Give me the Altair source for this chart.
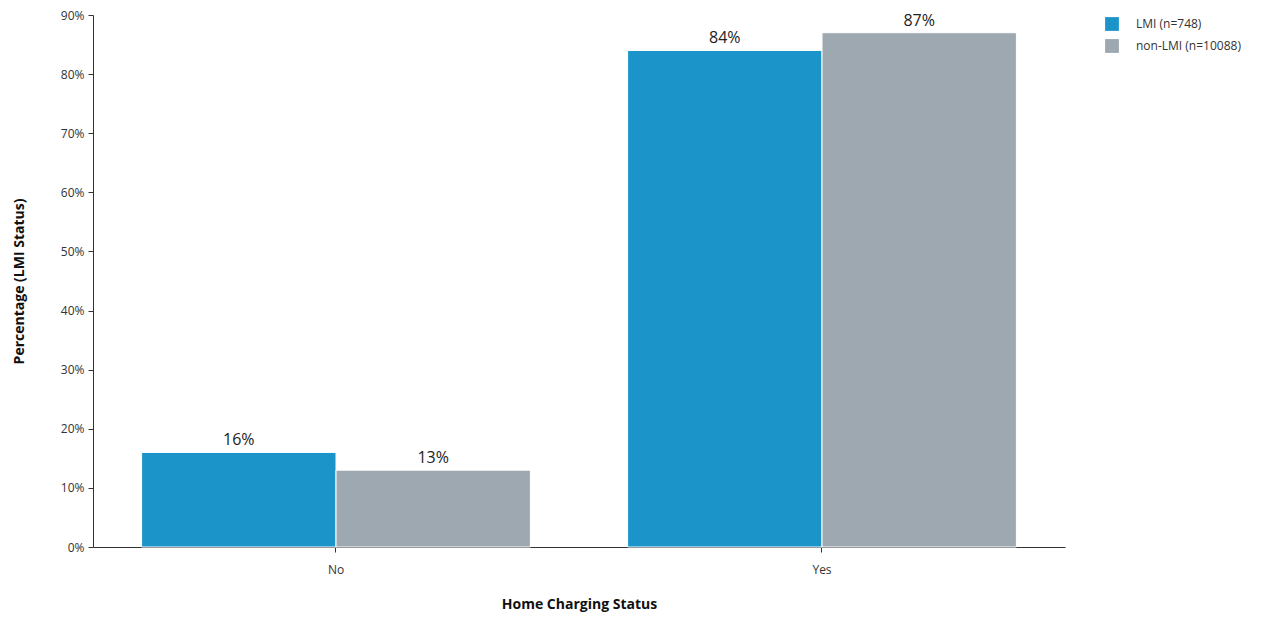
import altair as alt
import pandas as pd

# Share of respondents with / without home charging, by income group
status = ["No", "No", "Yes", "Yes"]
group = ["LMI (n=748)", "non-LMI (n=10088)", "LMI (n=748)", "non-LMI (n=10088)"]
share = [0.16, 0.13, 0.84, 0.87]
labels = ["16%", "13%", "84%", "87%"]

groups_order = ["LMI (n=748)", "non-LMI (n=10088)"]
colors = ["#1b95c9", "#9ea8b0"]

df = pd.DataFrame({"status": status, "group": group, "share": share, "label": labels})

FONT = "Open Sans"

x = alt.X(
    "status:N",
    title="Home Charging Status",
    scale=alt.Scale(paddingInner=0.2, paddingOuter=0.1),
    axis=alt.Axis(
        labelAngle=0, labelFontSize=12, labelColor="#333333", labelPadding=12,
        titleFontSize=14, titleFontWeight="bold", titleColor="#111111", titlePadding=22,
        domainColor="#333333", tickColor="#333333", tickSize=5,
    ),
)

base = alt.Chart(df).encode(
    x=x,
    xOffset=alt.XOffset("group:N", sort=groups_order),
)

bars = base.mark_bar(stroke="white", strokeWidth=1).encode(
    y=alt.Y(
        "share:Q",
        title="Percentage (LMI Status)",
        scale=alt.Scale(domain=[0, 0.9], nice=False),
        axis=alt.Axis(
            format=".0%", values=[i / 10 for i in range(10)], grid=False,
            labelFontSize=12, labelColor="#333333", labelPadding=4,
            titleFontSize=14, titleFontWeight="bold", titleColor="#111111", titlePadding=34,
            domainColor="#333333", tickColor="#333333", tickSize=5,
        ),
    ),
    color=alt.Color(
        "group:N",
        sort=groups_order,
        scale=alt.Scale(domain=groups_order, range=colors),
        legend=alt.Legend(
            title=None, orient="none", legendX=1012, legendY=2,
            symbolType="square", symbolSize=190, symbolStrokeWidth=0,
            labelFontSize=12, labelColor="#333333", rowPadding=8, labelOffset=17,
        ),
    ),
)

text = base.mark_text(dy=-12, fontSize=16, color="#222222", font=FONT).encode(
    y="share:Q",
    text="label:N",
)

chart = (
    alt.layer(bars, text)
    .properties(
        width=972, height=532,
        autosize=alt.AutoSizeParams(type="none"),
        padding={"left": 93, "top": 15, "right": 203, "bottom": 70},
    )
    .configure(font=FONT)
    .configure_view(stroke=None)
)

chart.save("out.html", embed_options={"renderer": "svg", "actions": False})
